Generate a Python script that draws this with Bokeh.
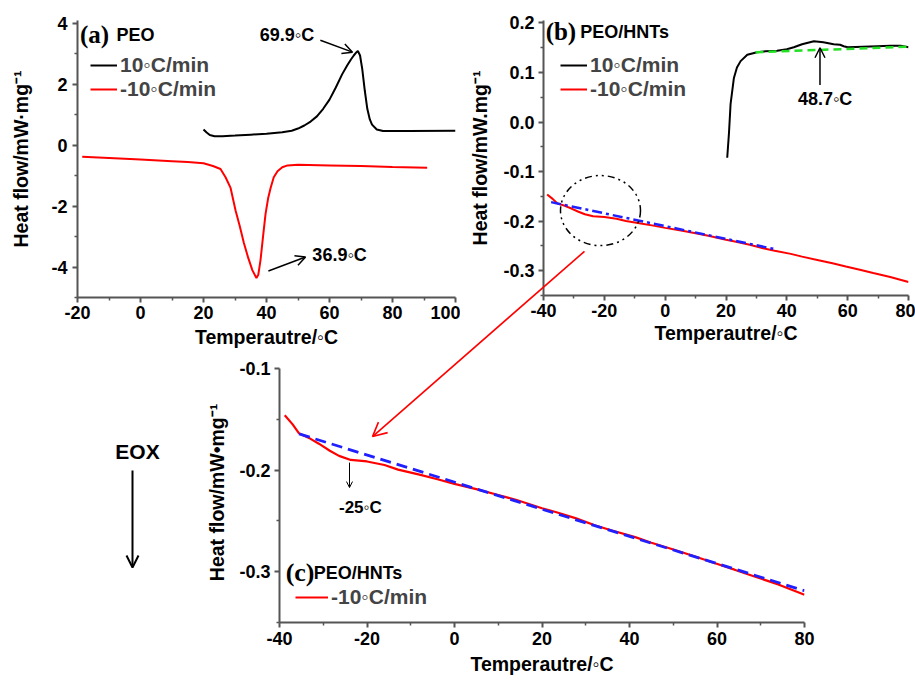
from bokeh.plotting import figure
from bokeh.layouts import row, column
from bokeh.models import Range1d, FixedTicker, Legend, LegendItem, Label, Arrow, OpenHead
from bokeh.embed import file_html
from bokeh.resources import INLINE
import math

# ---------------- data ----------------
# (a) PEO, heating 10 C/min
a_heat_T = [20, 21, 22, 23.5, 26, 30, 35, 40, 45, 48, 50, 52, 54, 56, 58, 60, 62, 64, 65.6, 66.8,
            67.7, 68.5, 69, 69.7, 70.4, 71.2, 72, 72.8, 73.5, 75, 77, 85, 100]
a_heat_v = [0.52, 0.42, 0.34, 0.30, 0.30, 0.32, 0.35, 0.38, 0.43, 0.48, 0.55, 0.65, 0.78, 0.95, 1.2, 1.5, 1.9, 2.33, 2.62, 2.82,
            2.95, 3.05, 3.1, 2.95, 2.5, 1.8, 1.2, 0.85, 0.68, 0.52, 0.47, 0.47, 0.48]
# (a) PEO, cooling -10 C/min
a_cool_T = [-18.5, -10, 0, 10, 15, 20, 23, 25.4, 27, 28.6, 30.2, 31.5, 32.8, 34.2, 35.5, 36.8, 37.4, 38.1, 38.9, 39.7,
            40.5, 41.3, 42.3, 43.5, 45, 46.7, 50, 60, 70, 80, 91]
a_cool_v = [-0.38, -0.42, -0.47, -0.52, -0.55, -0.59, -0.68, -0.78, -1.05, -1.4, -2.15, -2.65, -3.2, -3.7, -4.1, -4.36, -4.25, -3.77, -3.0, -2.25,
            -1.75, -1.4, -1.05, -0.85, -0.72, -0.66, -0.64, -0.66, -0.68, -0.71, -0.74]
# (b) PEO/HNTs, heating 10 C/min
b_heat_T = [20.4, 21.0, 21.5, 22.6, 23.6, 24.8, 27, 30.2, 33, 36.8, 40, 42.3, 45, 48.9, 52, 55.4, 57.5, 58.7, 60, 65,
            69.7, 74, 77.4, 80]
b_heat_v = [-0.072, -0.02, 0.036, 0.089, 0.110, 0.123, 0.136, 0.141, 0.143, 0.144, 0.147, 0.151, 0.157, 0.163, 0.161, 0.157, 0.156, 0.153, 0.151, 0.152,
            0.153, 0.154, 0.154, 0.151]
b_base_T = [29.7, 80]
b_base_v = [0.141, 0.152]
b_fit_T = [-37.5, 35.7]
b_fit_v = [-0.1616, -0.256]
# PEO/HNTs cooling -10 C/min (panels b and c)
hnt_cool_T = [-38.8, -37, -35.5, -33, -31, -28.5, -26.4, -23.7, -20, -16, -12.9, -8, -3.9, 0, 5.2, 10, 14.2, 20, 23.3, 27.8,
              32.2, 36, 41.3, 45, 50.4, 55, 59.4, 64, 68.4, 74, 80]
hnt_cool_v = [-0.146, -0.155, -0.164, -0.169, -0.174, -0.181, -0.186, -0.190, -0.1915, -0.195, -0.1995, -0.2045, -0.209, -0.2135, -0.219, -0.2245, -0.2295, -0.2375, -0.2415, -0.2475,
              -0.2545, -0.2595, -0.266, -0.2715, -0.2787, -0.285, -0.2915, -0.298, -0.3045, -0.3125, -0.3227]
c_fit_T = [-35.5, 80]
c_fit_v = [-0.1644, -0.3187]

# ticks
a_xticks = [-20, 0, 20, 40, 60, 80, 100]
a_xminor = [-10, 10, 30, 50, 70, 90]
a_yticks = [-4, -2, 0, 2, 4]
a_yminor = [-5, -3, -1, 1, 3]
bc_xticks = [-40, -20, 0, 20, 40, 60, 80]
bc_xminor = [-30, -10, 10, 30, 50, 70]
b_yticks = [-0.3, -0.2, -0.1, 0.0, 0.1, 0.2]
b_yminor = [-0.35, -0.25, -0.15, -0.05, 0.05, 0.15]
b_ylabels = ["-0.3", "-0.2", "-0.1", "0.0", "0.1", "0.2"]
c_yticks = [-0.3, -0.2, -0.1]
c_yminor = [-0.35, -0.25, -0.15]
c_ylabels = ["-0.3", "-0.2", "-0.1"]

DEG = "\u25e6"
SANS = "Liberation Sans"
SERIF = "Liberation Serif"
AX = "#555555"
RED = "#ff0000"
BLUE = "#1f1fff"
GREEN = "#22e022"
TITLE_SIZE = "19.5px"


def make_fig(xr, yr, fw, fh, mbl, mbr, mbt, mbb, transparent=False):
    p = figure(x_range=Range1d(*xr), y_range=Range1d(*yr), frame_width=fw, frame_height=fh,
               min_border_left=mbl, min_border_right=mbr, min_border_top=mbt, min_border_bottom=mbb,
               toolbar_location=None, tools="", output_backend="svg")
    p.outline_line_color = None
    p.grid.visible = False
    if transparent:
        p.background_fill_color = None
        p.border_fill_color = None
    return p


def style_axes(p, xticks, xminor, yticks, yminor, ylabels, xlabel, ylabel,
               y_mls, y_als, x_mls, x_als, ybounds=None):
    for ax in (p.xaxis[0], p.yaxis[0]):
        ax.axis_line_color = AX
        ax.axis_line_width = 2
        ax.major_tick_line_color = AX
        ax.major_tick_line_width = 2
        ax.major_tick_out = 5
        ax.major_tick_in = 0
        ax.minor_tick_line_color = AX
        ax.minor_tick_line_width = 1.5
        ax.minor_tick_out = 3
        ax.minor_tick_in = 0
        ax.major_label_text_font = SANS
        ax.major_label_text_font_style = "bold"
        ax.major_label_text_font_size = "18px"
        ax.major_label_text_color = "black"
        ax.axis_label_text_font = SANS
        ax.axis_label_text_font_style = "bold"
        ax.axis_label_text_font_size = TITLE_SIZE
        ax.axis_label_text_color = "black"
    p.xaxis[0].ticker = FixedTicker(ticks=xticks, minor_ticks=xminor)
    p.yaxis[0].ticker = FixedTicker(ticks=yticks, minor_ticks=yminor)
    p.xaxis[0].major_label_overrides = {t: str(t) for t in xticks}
    p.yaxis[0].major_label_overrides = {t: l for t, l in zip(yticks, ylabels)}
    p.xaxis[0].axis_label = xlabel
    if ylabel:
        p.yaxis[0].axis_label = ylabel
    p.yaxis[0].major_label_standoff = y_mls
    p.yaxis[0].axis_label_standoff = y_als
    p.xaxis[0].major_label_standoff = x_mls
    p.xaxis[0].axis_label_standoff = x_als
    if ybounds is not None:
        p.yaxis[0].bounds = ybounds


def add_label(p, x, y, text, size="18px", font=SANS, align="left", color="black", angle=0):
    p.add_layout(Label(x=x, y=y, text=text, text_font=font, text_font_style="bold",
                       text_font_size=size, text_align=align, text_baseline="middle",
                       text_color=color, angle=angle))


def add_arrow(p, xs, ys, xe, ye, color="black", width=1.5, size=10):
    p.add_layout(Arrow(end=OpenHead(size=size, line_color=color, line_width=width),
                       x_start=xs, y_start=ys, x_end=xe, y_end=ye,
                       line_color=color, line_width=width))


def add_legend(p, items, loc, glyph_w):
    leg = Legend(items=items, location=loc, label_text_font=SANS, label_text_font_style="bold",
                 label_text_font_size="21px", glyph_width=glyph_w, glyph_height=22, label_height=22,
                 label_standoff=3, spacing=0, padding=0, margin=0, border_line_color=None,
                 background_fill_alpha=0)
    p.add_layout(leg)


# ---------------- (a) ----------------
pa = make_fig((-20, 100), (-5, 4.1), 378, 277, 77, 5, 20, 58)
style_axes(pa, a_xticks, a_xminor, a_yticks, a_yminor, [str(t) for t in a_yticks],
           "Temperautre/" + DEG + "C", "Heat flow/mW\u00b7mg\u207b\u00b9", 5, 16, 3, 4)
ra1 = pa.line(a_heat_T, a_heat_v, line_color="black", line_width=2)
ra2 = pa.line(a_cool_T, a_cool_v, line_color=RED, line_width=2)
add_legend(pa, [LegendItem(label="10" + DEG + "C/min", renderers=[ra1]),
                LegendItem(label="-10" + DEG + "C/min", renderers=[ra2])], (13, 196), 27)
add_label(pa, -19.2, 3.64, "(a)", size="25px", font=SERIF)
add_label(pa, -7.6, 3.64, "PEO")
add_label(pa, 46.5, 3.64, "69.9" + DEG + "C", align="center")
add_arrow(pa, 57.1, 3.45, 67.3, 3.06)
add_label(pa, 63.2, -3.61, "36.9" + DEG + "C", align="center")
add_arrow(pa, 40.6, -4.13, 52.4, -3.67)

# ---------------- (b) ----------------
pb = make_fig((-40, 80), (-0.35, 0.205), 365, 275, 83, 7, 17, 63)
style_axes(pb, bc_xticks, bc_xminor, b_yticks, b_yminor, b_ylabels,
           "Temperautre/" + DEG + "C", "Heat flow/mW.mg\u207b\u00b9", 4, 9, 3, 2)
rb1 = pb.line(b_heat_T, b_heat_v, line_color="black", line_width=2)
pb.line(b_base_T, b_base_v, line_color=GREEN, line_width=2.5, line_dash="8 5")
rb2 = pb.line(hnt_cool_T, hnt_cool_v, line_color=RED, line_width=2)
pb.line(b_fit_T, b_fit_v, line_color=BLUE, line_width=2.5, line_dash="10 4 3 4")
pb.ellipse(x=[-21.26], y=[-0.1786], width=26.3, height=0.1414, fill_color=None,
           line_color="black", line_width=1.5, line_dash="7 4 2 4 2 4")
add_legend(pb, [LegendItem(label="10" + DEG + "C/min", renderers=[rb1]),
                LegendItem(label="-10" + DEG + "C/min", renderers=[rb2])], (17, 194), 27)
add_label(pb, -39.3, 0.182, "(b)", size="25px", font=SERIF)
add_label(pb, -27.9, 0.182, "PEO/HNTs")
add_label(pb, 52.6, 0.047, "48.7" + DEG + "C", align="center")
add_arrow(pb, 50.9, 0.075, 50.9, 0.150)

# ---------------- EOX + y title of (c) ----------------
EW = 236
pe = figure(x_range=Range1d(0, EW), y_range=Range1d(443, 0), frame_width=EW, frame_height=443,
            min_border=0, toolbar_location=None, tools="", output_backend="svg",
            x_axis_location=None, y_axis_location=None)
pe.outline_line_color = None
pe.grid.visible = False
pe.background_fill_color = None
pe.border_fill_color = None
add_label(pe, 137, 211, "EOX", align="center", size="21px")
add_arrow(pe, 132, 230, 132, 327, width=2, size=12)
add_label(pe, 216, 252, "Heat flow/mW\u2022mg\u207b\u00b9", align="center", size=TITLE_SIZE,
          angle=math.pi / 2)

# ---------------- (c) ----------------
c_top = -0.35 + 0.25 * 382 / 254
pc = make_fig((-40, 80), (-0.35, c_top), 525, 382, 279 - EW, 20, 5, 56, transparent=True)
style_axes(pc, bc_xticks, bc_xminor, c_yticks, c_yminor, c_ylabels,
           "Temperautre/" + DEG + "C", None, 4, 12, 4, 5, ybounds=(-0.35, -0.1))
rc = pc.line(hnt_cool_T, hnt_cool_v, line_color=RED, line_width=2.2)
pc.line(c_fit_T, c_fit_v, line_color=BLUE, line_width=2.8, line_dash="11 6")
add_legend(pc, [LegendItem(label="-10" + DEG + "C/min", renderers=[rc])], (16, 13), 33)
add_label(pc, -38.6, -0.301, "(c)", size="26px", font=SERIF)
add_label(pc, -32.2, -0.301, "PEO/HNTs")
add_label(pc, -21.5, -0.237, "-25" + DEG + "C", align="center", size="17px")
add_arrow(pc, -24.0, -0.1926, -24.0, -0.2172, width=1, size=6)
# red zoom arrow from the circled region of (b) to (c)
add_arrow(pc, 29.71, 0.0153, -18.74, -0.167, color=RED, width=1.6, size=14)

top = row(pa, pb)
bottom = row(pe, pc, margin=(-120, 0, 0, 0))
layout = column(top, bottom)

open("out.html", "w").write(file_html(layout, INLINE))
